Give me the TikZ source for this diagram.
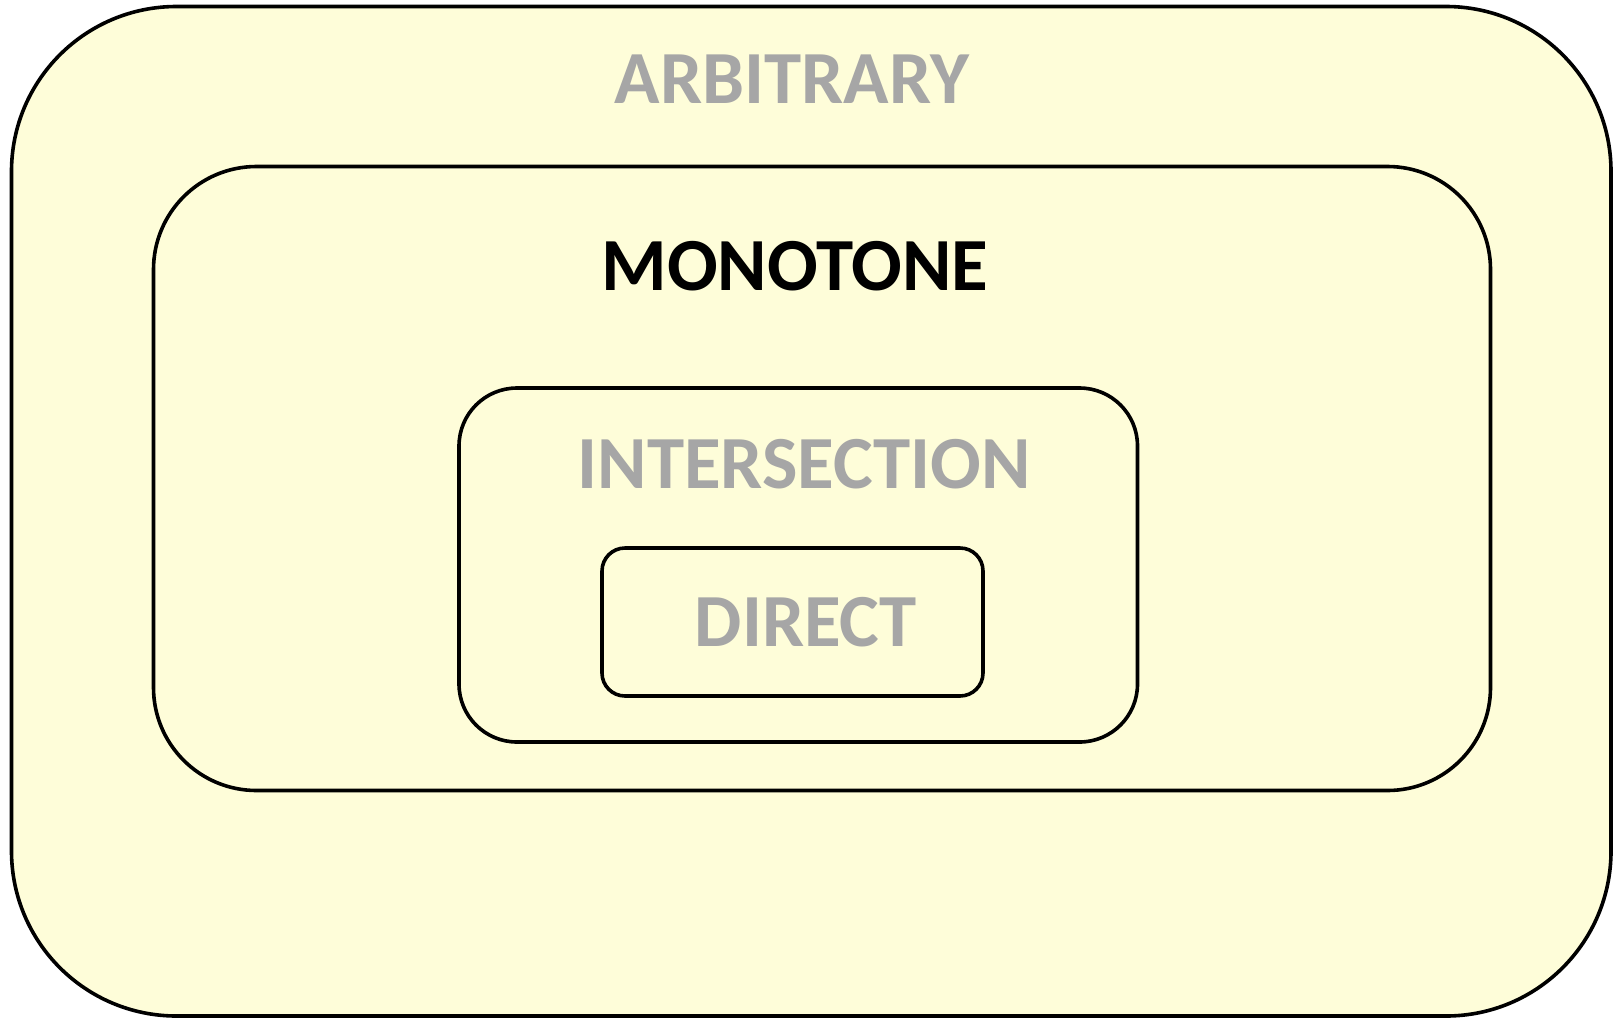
\documentclass[tikz,border=0pt]{standalone}
\usepackage{fontspec}
\setmainfont{Carlito}
\definecolor{setfill}{HTML}{FEFDD9}
\definecolor{labelgray}{HTML}{A6A6A6}
\begin{document}
\begin{tikzpicture}[x=1pt,y=-1pt,
  setbox/.style={draw=black, line width=3.6pt, rectangle, inner sep=0pt},
  setlabel/.style={font=\fontsize{75}{75}\selectfont\bfseries, inner sep=0pt, anchor=base, text=labelgray}]
  \useasboundingbox (0,0) rectangle (1614,1018);
  % nested classes, outermost first
  \node[setbox, fill=setfill, rounded corners=165pt, minimum width=1599.5pt, minimum height=1009.5pt]
    (arbitrary) at (811.25,511.25) {};
  \node[setbox, rounded corners=103pt, minimum width=1337pt, minimum height=624pt]
    (monotone) at (822,478.5) {};
  \node[setbox, rounded corners=58pt, minimum width=678.5pt, minimum height=354pt]
    (intersection) at (798.25,565) {};
  \node[setbox, rounded corners=23pt, minimum width=381pt, minimum height=148pt]
    (direct) at (792.5,622) {};
  % class names
  \node[setlabel] (arbitraryname) at (792,103) {ARBITRARY};
  \node[setlabel, text=black] (monotonename) at (795,290) {MONOTONE};
  \node[setlabel] (intersectionname) at (804,488) {INTERSECTION};
  \node[setlabel] (directname) at (806,646) {DIRECT};
\end{tikzpicture}
\end{document}
